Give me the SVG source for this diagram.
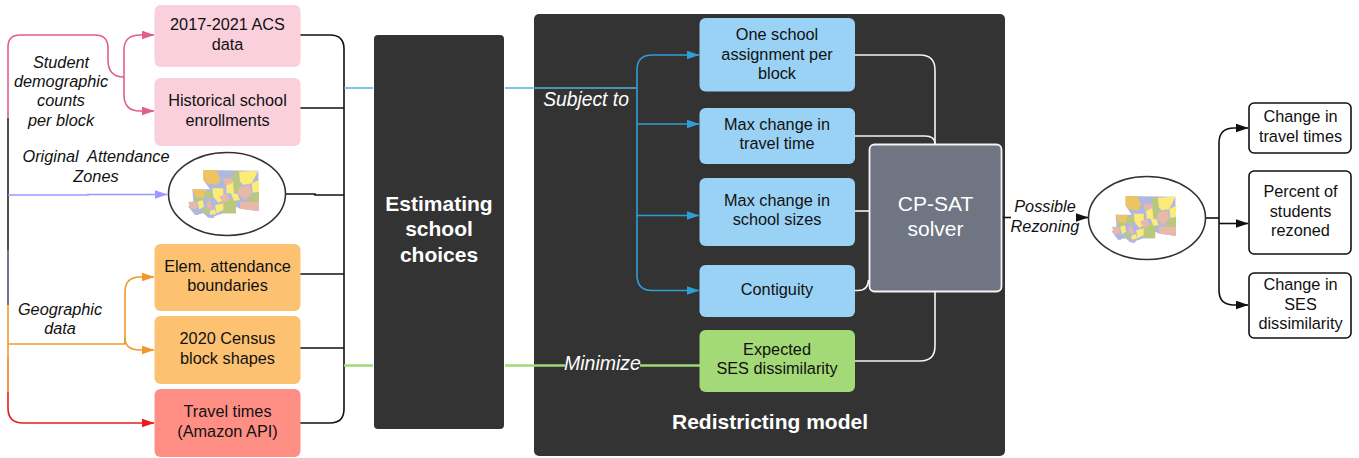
<svg xmlns="http://www.w3.org/2000/svg" xmlns:xlink="http://www.w3.org/1999/xlink" width="1359" height="458" viewBox="0 0 1359 458">
<style>
text{font-family:"Liberation Sans",Arial,sans-serif;font-size:16.3px;text-anchor:middle;fill:#111}
.i{font-style:italic}
.w{fill:#fff}
.b{font-weight:bold;font-size:21px}
.s{font-size:21px}
.c{fill:none;stroke-width:1.6}
.k{stroke:#111}
.wl{stroke:#f4f4f4}
.bl{stroke:#2f9ed6}
.pk{stroke:#e25f8c}
.or{stroke:#f0982b}
.gr{stroke:#a3d977;stroke-width:2.4}
.out{fill:#fff;stroke:#111;stroke-width:1.6}
.el{fill:#fff;stroke:#333;stroke-width:1.6}
.mo{fill:#eec462}.my{fill:#fdeb78}.mg{fill:#b9c97c}.mp{fill:#e8b8a8}.mb{fill:#b0b8de}
</style>
<defs>
<marker id="ak" markerWidth="13" markerHeight="9" refX="12.5" refY="4.5" orient="auto" markerUnits="userSpaceOnUse"><path d="M0 0L13 4.5L0 9z" fill="#111"/></marker>
<marker id="abl" markerWidth="13" markerHeight="9" refX="12.5" refY="4.5" orient="auto" markerUnits="userSpaceOnUse"><path d="M0 0L13 4.5L0 9z" fill="#2f9ed6"/></marker>
<marker id="apk" markerWidth="13" markerHeight="9" refX="12.5" refY="4.5" orient="auto" markerUnits="userSpaceOnUse"><path d="M0 0L13 4.5L0 9z" fill="#e25f8c"/></marker>
<marker id="aor" markerWidth="13" markerHeight="9" refX="12.5" refY="4.5" orient="auto" markerUnits="userSpaceOnUse"><path d="M0 0L13 4.5L0 9z" fill="#f0982b"/></marker>
<marker id="apu" markerWidth="13" markerHeight="9" refX="12.5" refY="4.5" orient="auto" markerUnits="userSpaceOnUse"><path d="M0 0L13 4.5L0 9z" fill="#9999ff"/></marker>
<marker id="are" markerWidth="13" markerHeight="9" refX="12.5" refY="4.5" orient="auto" markerUnits="userSpaceOnUse"><path d="M0 0L13 4.5L0 9z" fill="#e81c1c"/></marker>
<g id="map">
<path class="mb" d="M130 60L295 62L297 183L240 176L228 170L228 190L190 190L165 198L160 205L145 203L130 190L105 195L85 170L100 152L97 118L150 118L130 90z"/>
<path class="mo" d="M130 60L168 60L182 88L170 105L140 100L130 88z"/>
<path class="my" d="M237 65L295 62L275 100L250 105L240 95z"/>
<path class="mg" d="M222 62L237 65L240 125L222 128L215 95z"/>
<path class="mp" d="M240 110L270 105L275 130L255 150L232 132z"/>
<path class="my" d="M275 100L297 90L297 125L278 128z"/>
<path class="mg" d="M270 135L297 125L297 155L262 155z"/>
<path class="mp" d="M240 155L297 155L297 183L240 176z"/>
<path class="my" d="M157 115L190 115L190 150L175 158L160 140z"/>
<path class="mg" d="M190 155L228 140L228 190L190 190z"/>
<path class="mo" d="M97 118L140 120L130 145L105 140z"/>
<path class="mp" d="M85 155L110 155L112 175L92 178z"/>
<path class="mg" d="M105 140L130 145L125 160L108 155z"/>
<path class="my" d="M112 155L128 150L132 170L118 178z"/>
<path class="mp" d="M145 150L165 165L150 180L138 165z"/>
<path class="my" d="M198 100L218 92L222 130L200 130z"/>
<path class="mp" d="M190 85L215 85L218 98L195 108z"/>
<path class="mg" d="M130 172L150 178L145 192L128 188z"/>
<path class="my" d="M165 165L190 160L190 180L170 190z"/>
<path class="mp" d="M178 140L200 130L210 150L190 158z"/>
<path class="mg" d="M132 125L155 122L160 140L140 148z"/>
<path class="mb" d="M150 160L165 150L172 162L158 172z"/>
<path class="my" d="M150 182L165 178L168 192L150 195z"/>
<path class="mb" d="M105 178L118 180L115 195L105 195z"/>
<path class="my" d="M212 128L232 132L240 150L222 152z"/>
</g>
</defs>
<g id="estimating"><rect x="374" y="35" width="130" height="394" rx="4" fill="#333"/>
<text class="w b" x="439" y="211">Estimating</text><text class="w b" x="439" y="236">school</text><text class="w b" x="439" y="262">choices</text></g>
<g id="redistricting"><rect x="534" y="14" width="471" height="442" rx="5" fill="#333"/>
<text class="w b" x="770" y="429">Redistricting model</text></g>
<g id="connectors">
<path class="c pk" d="M8 118V47Q8 35 20 35H95Q108 35 108 48V60Q108 77 124 77"/>
<path class="c pk" marker-end="url(#apk)" d="M124 77V50Q124 35 140 35H154"/>
<path class="c pk" marker-end="url(#apk)" d="M124 77V95Q124 111 140 111H154"/>
<path class="c" stroke="#222" d="M8 118V250"/>
<path class="c" stroke="#4b5563" d="M8 250V305"/>
<path class="c or" d="M8 305V358"/>
<path class="c" stroke="#ee7d1f" d="M8 358V392"/>
<path class="c" stroke="#e81c1c" marker-end="url(#are)" d="M8 392V408Q8 423 23 423H154"/>
<path class="c" stroke="#9999ff" marker-end="url(#apu)" d="M8 195H88V194.500H167"/>
<path class="c or" d="M8 344H125"/>
<path class="c or" marker-end="url(#aor)" d="M125 344V292Q125 277 140 277H154"/>
<path class="c or" marker-end="url(#aor)" d="M125 344V338Q125 350 140 350H154"/>
<path class="c k" d="M300 35H330Q344 35 344 49V409Q344 423 330 423H300"/>
<path class="c k" d="M300 108H344M286 194H315V195H344M300 274H344M300 348H344"/>
<path class="c" stroke="#55b2de" d="M344 88H373M505 88H637"/>
<path class="c gr" d="M344 365.500H373M505 365.500H565M640 365.500H700"/>
<path class="c bl" d="M637 88V70Q637 55 652 55H699" marker-end="url(#abl)"/>
<path class="c bl" d="M637 88V124H699" marker-end="url(#abl)"/>
<path class="c bl" d="M637 124V215.500H699" marker-end="url(#abl)"/>
<path class="c bl" d="M637 215V275Q637 290.500 652 290.500H699" marker-end="url(#abl)"/>
<path class="c wl" d="M855 55H920Q935 55 935 70V144"/>
<path class="c wl" d="M855 136H925Q935 136 935 144"/>
<path class="c wl" d="M855 211H869"/>
<path class="c wl" d="M855 290.500H858Q868 290.500 868.500 280"/>
<path class="c wl" d="M855 361H920Q935 361 935 346V292"/>
<path class="c k" stroke-width="2" d="M1002 217.500H1011"/>
<path class="c k" marker-end="url(#ak)" d="M1078 217.500H1088"/>
<path class="c k" d="M1206 218H1219"/>
<path class="c k" marker-end="url(#ak)" d="M1219 218V143Q1219 128 1234 128H1248"/>
<path class="c k" marker-end="url(#ak)" d="M1219 223.500H1248"/>
<path class="c k" marker-end="url(#ak)" d="M1219 218V290Q1219 305 1234 305H1248"/>
</g>
<g id="acs"><rect x="154.500" y="5" width="146" height="62" rx="6" fill="#f9d0dc"/><text x="227.500" y="30">2017-2021 ACS</text><text x="227.500" y="49.500">data</text></g>
<g id="hist"><rect x="154.500" y="78" width="146" height="68" rx="6" fill="#f9d0dc"/><text x="227.500" y="106">Historical school</text><text x="227.500" y="125.500">enrollments</text></g>
<g id="zones"><ellipse cx="227" cy="194" rx="58.500" ry="41.500" class="el"/><use xlink:href="#map" href="#map" transform="translate(160 150) scale(.3333)"/></g>
<g id="elem"><rect x="154.500" y="244" width="146" height="67" rx="6" fill="#fcc272"/><text x="227.500" y="271.500">Elem. attendance</text><text x="227.500" y="291">boundaries</text></g>
<g id="census"><rect x="154.500" y="316" width="146" height="68" rx="6" fill="#fcc272"/><text x="227.500" y="344">2020 Census</text><text x="227.500" y="363.500">block shapes</text></g>
<g id="travel"><rect x="154.500" y="389" width="146" height="68" rx="6" fill="#ff8f85"/><text x="227.500" y="417">Travel times</text><text x="227.500" y="436.500">(Amazon API)</text></g>
<g id="labels">
<text class="i" x="61" y="67.500">Student</text><text class="i" x="61" y="87">demographic</text><text class="i" x="61" y="106">counts</text><text class="i" x="61" y="126">per block</text>
<text class="i" x="96" y="162" xml:space="preserve">Original  Attendance</text><text class="i" x="96" y="182">Zones</text>
<text class="i" x="60" y="315">Geographic</text><text class="i" x="60" y="334">data</text>
<text class="i w" x="586" y="106" style="font-size:19.3px">Subject to</text>
<text class="i w" x="602.500" y="370" style="font-size:19.500px">Minimize</text>
<text class="i" x="1045" y="212">Possible</text><text class="i" x="1045" y="231.500">Rezoning</text>
</g>
<g id="one"><rect x="699.500" y="18" width="155.500" height="73.500" rx="6" fill="#99d2f5"/><text x="777" y="40">One school</text><text x="777" y="59.500">assignment per</text><text x="777" y="78.500">block</text></g>
<g id="maxtravel"><rect x="699.500" y="108" width="155.500" height="56" rx="6" fill="#99d2f5"/><text x="777" y="129.500">Max change in</text><text x="777" y="149">travel time</text></g>
<g id="maxsize"><rect x="699.500" y="178" width="155.500" height="68" rx="6" fill="#99d2f5"/><text x="777" y="205.500">Max change in</text><text x="777" y="225">school sizes</text></g>
<g id="contig"><rect x="699.500" y="265" width="155.500" height="52" rx="6" fill="#99d2f5"/><text x="777" y="294.500">Contiguity</text></g>
<g id="ses"><rect x="699.500" y="330" width="155.500" height="62" rx="6" fill="#a3d977"/><text x="777" y="354.500">Expected</text><text x="777" y="374">SES dissimilarity</text></g>
<g id="solver"><rect x="869.500" y="144.500" width="132" height="147" rx="5" fill="#6f7582" stroke="#f4f4f4" stroke-width="1.800"/><text class="w s" x="935.500" y="210.500">CP-SAT</text><text class="w s" x="935.500" y="236">solver</text></g>
<g id="rezoned"><ellipse cx="1147" cy="218" rx="58.500" ry="41.500" class="el"/><use xlink:href="#map" href="#map" transform="translate(1086.300 176.600) scale(.302 .324)"/></g>
<g id="out1"><rect x="1249" y="103" width="102" height="50" rx="5" class="out"/><text x="1300.500" y="122">Change in</text><text x="1300.500" y="141.500">travel times</text></g>
<g id="out2"><rect x="1249" y="171" width="102" height="83" rx="5" class="out"/><text x="1300.500" y="197">Percent of</text><text x="1300.500" y="216.500">students</text><text x="1300.500" y="236">rezoned</text></g>
<g id="out3"><rect x="1249" y="273" width="102" height="65" rx="5" class="out"/><text x="1300.500" y="290">Change in</text><text x="1300.500" y="309.500">SES</text><text x="1300.500" y="329">dissimilarity</text></g>
</svg>
